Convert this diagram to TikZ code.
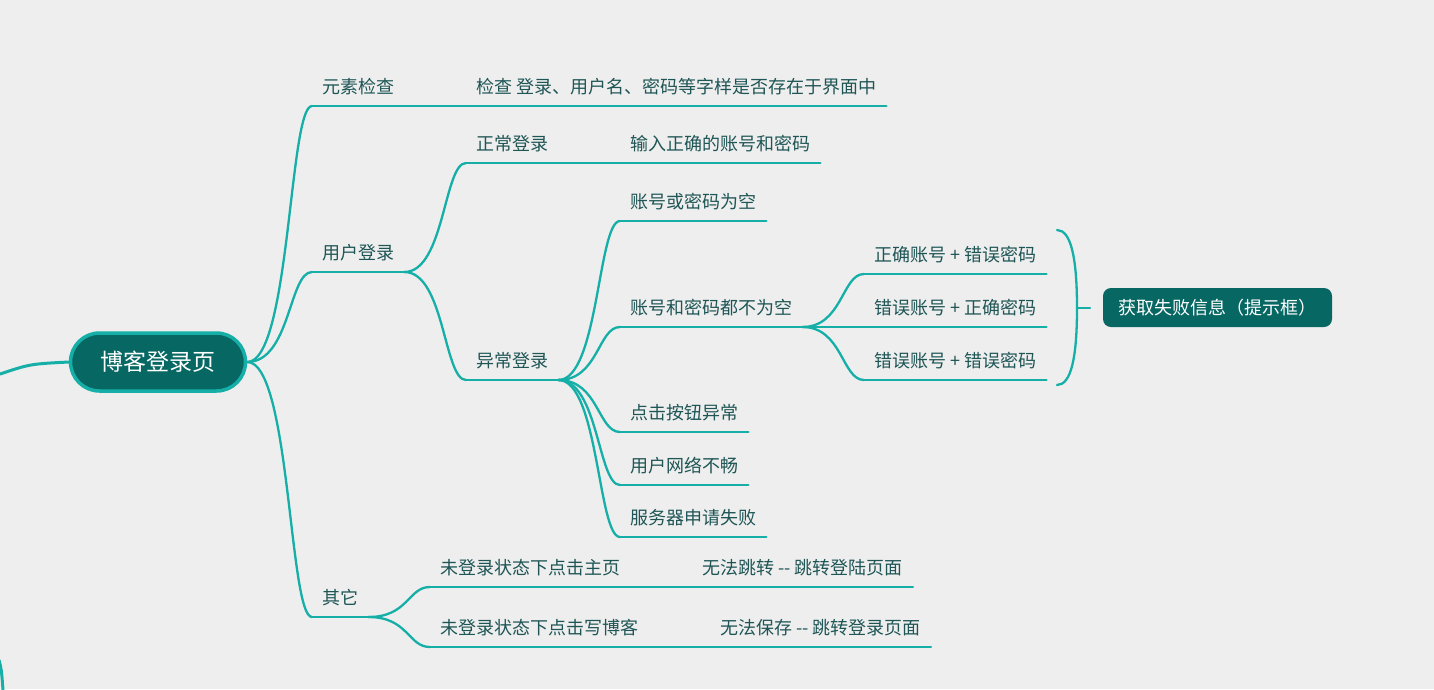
\documentclass[tikz,border=0pt]{standalone}
\usepackage{fontspec}
\newfontfamily\cjk{Noto Sans CJK SC}
\usepackage{tikz}

\definecolor{bgc}{HTML}{EEEEEE}
\definecolor{linec}{HTML}{15AFA8}
\definecolor{txtc}{HTML}{1F5555}
\definecolor{darkc}{HTML}{066763}

\tikzset{
  link/.style={draw=linec, line width=2.3pt, line cap=round},
  topic/.style={font=\cjk\fontsize{18}{18}\selectfont, text=txtc, anchor=south west, inner xsep=10pt, inner ysep=12.3pt, text depth=0pt},
}

\begin{document}
\begin{tikzpicture}[x=1pt,y=-1pt]

\fill [bgc] (0,0) rectangle (1434,689);
\useasboundingbox (0,0) rectangle (1434,689);

%root
\node [draw=linec, line width=3.5pt, fill=darkc, rounded corners=29pt, minimum width=175pt, minimum height=58pt, text=white, font=\cjk\fontsize{23}{23}\selectfont] (root) at (158,362) {博客登录页};

\coordinate (zuo) at (0,374);
\draw [link, line width=3pt] (zuo) .. controls (30,364) .. (root.west);
\coordinate (xia1) at (-1,660); \coordinate (xia2) at (3,690);
\draw [link, line width=3pt] (xia1) .. controls (1.5,670) .. (xia2);

\node [topic] (yscjc) at (312,106) {元素检查};
\node [topic] (jc) at (466,106) {检查 登录、用户名、密码等字样是否存在于界面中};

\node [topic] (yhdl) at (312,272) {用户登录};
\node [topic] (zcdl) at (466,163) {正常登录};
\node [topic] (srzq) at (620,163) {输入正确的账号和密码};
\node [topic] (ycdl) at (466,380) {异常登录};

\node [topic] (kong) at (620,221) {账号或密码为空};
\node [topic] (bukong) at (620,327) {账号和密码都不为空};
\node [topic] (anniu) at (620,432) {点击按钮异常};
\node [topic] (wangluo) at (620,485) {用户网络不畅};
\node [topic] (fuwuqi) at (620,537) {服务器申请失败};

\node [topic] (zhmi1) at (864,274) {正确账号 + 错误密码};
\node [topic] (zhmi2) at (864,327) {错误账号 + 正确密码};
\node [topic] (zhmi3) at (864,380) {错误账号 + 错误密码};

\node [topic] (qita) at (312,617) {其它};
\node [topic] (zhuye) at (430,587) {未登录状态下点击主页};
\node [topic] (tiaozhuan) at (692,587) {无法跳转 -- 跳转登陆页面};
\node [topic] (xieboke) at (430,647) {未登录状态下点击写博客};
\node [topic] (baocun) at (710,647) {无法保存 -- 跳转登录页面};

%underlines
\foreach \n in {yscjc,jc,yhdl,zcdl,srzq,ycdl,kong,bukong,anniu,wangluo,fuwuqi,zhmi1,zhmi2,zhmi3,qita,zhuye,tiaozhuan,xieboke,baocun}
  \draw [link] (\n.south west) -- (\n.south east);

%branches
\foreach \b in {yscjc,yhdl,qita}
  \draw [link] (root.east) .. controls +(43,0) and +(-23,0) .. (\b.south west);

\foreach \a/\b in {yscjc/jc,yhdl/zcdl,yhdl/ycdl,zcdl/srzq,ycdl/kong,ycdl/bukong,ycdl/anniu,ycdl/wangluo,ycdl/fuwuqi,bukong/zhmi1,bukong/zhmi2,bukong/zhmi3,qita/zhuye,qita/xieboke,zhuye/tiaozhuan,xieboke/baocun}
  \draw [link] (\a.south east) .. controls +(40,0) and +(-22,0) .. (\b.south west);

%summary
\coordinate (kuo1) at (1057,230);
\coordinate (kuo2) at (1057,385);
\coordinate (kuojian) at (1077,308);
\coordinate (kuowei) at (1090,308);
\draw [link] (kuo1) .. controls (1071,230) and (1077,258) .. (kuojian) .. controls (1077,358) and (1071,385) .. (kuo2);
\draw [link] (kuojian) -- (kuowei);

\node [fill=darkc, rounded corners=8pt, minimum width=229pt, minimum height=39pt, text=white, font=\cjk\fontsize{18}{18}\selectfont] (tishi) at (1217.5,307.5) {获取失败信息（提示框）};

\end{tikzpicture}
\end{document}
